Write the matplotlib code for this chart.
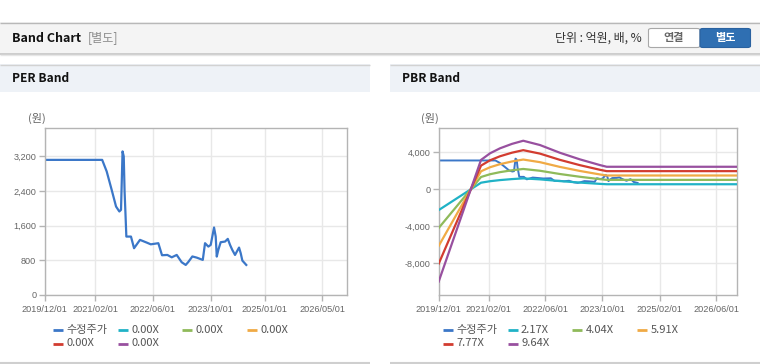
import numpy as np
import pandas as pd
import matplotlib
matplotlib.use("Agg")
import matplotlib.pyplot as plt
from matplotlib.patches import Rectangle, FancyBboxPatch
from matplotlib.lines import Line2D
from matplotlib.ticker import FuncFormatter

plt.rcParams['font.family'] = ['Liberation Sans', 'Noto Sans CJK KR', 'DejaVu Sans']
KR = ['Noto Sans CJK KR', 'DejaVu Sans']

# --- data ---
price_dates = ['2019-12-01', '2021-03-30', '2021-05-07', '2021-06-18', '2021-07-25', '2021-08-22',
               '2021-09-05', '2021-09-18', '2021-09-28', '2021-10-05', '2021-10-13', '2021-10-20',
               '2021-11-28', '2021-12-24', '2022-02-12', '2022-04-10', '2022-05-14', '2022-07-17',
               '2022-08-17', '2022-10-01', '2022-11-07', '2022-12-19', '2023-01-30', '2023-03-05',
               '2023-03-27', '2023-04-30', '2023-06-06', '2023-07-27', '2023-08-15', '2023-09-12',
               '2023-10-02', '2023-10-30', '2023-11-13', '2023-11-22', '2023-12-05', '2023-12-25',
               '2024-01-31', '2024-02-23', '2024-03-13', '2024-04-01', '2024-04-24', '2024-05-28',
               '2024-06-11', '2024-06-25', '2024-07-28']
price = [3120, 3120, 2854, 2430, 2043, 1928,
         1967, 3316, 3200, 2400, 1850, 1349,
         1349, 1080, 1273, 1210, 1170, 1196,
         918, 925, 870, 925, 756, 694,
         763, 890, 863, 810, 1196, 1118,
         1157, 1558, 1349, 887, 1041, 1219,
         1234, 1296, 1157, 1041, 925, 1095,
         965, 794, 694]

band_dates = ['2019-12-01', '2020-11-27', '2021-02-12', '2021-05-08', '2021-08-19', '2021-11-23',
              '2022-04-15', '2022-10-03', '2023-03-23', '2023-09-10', '2023-11-07', '2026-11-28']
band_217 = [-2246, 716, 877, 998, 1107, 1183, 1078, 890, 729, 590, 549, 549]
band_404 = [-4181, 1333, 1632, 1858, 2060, 2202, 2008, 1656, 1357, 1099, 1022, 1022]
band_591 = [-6117, 1950, 2388, 2719, 3014, 3221, 2937, 2423, 1986, 1608, 1495, 1495]
band_777 = [-8042, 2564, 3139, 3574, 3963, 4235, 3862, 3186, 2611, 2113, 1966, 1966]
band_964 = [-9977, 3181, 3895, 4434, 4916, 5254, 4791, 3952, 3239, 2622, 2439, 2439]

pbr_labels = ['수정주가', '2.17X', '4.04X', '5.91X', '7.77X', '9.64X']
per_labels = ['수정주가', '0.00X', '0.00X', '0.00X', '0.00X', '0.00X']
colors = ['#3b77c8', '#20b2c6', '#8fba5a', '#f0aa45', '#d23c30', '#98509f']

per_xticks = ['2019-12-01', '2021-02-01', '2022-06-01', '2023-10-01', '2025-01-01', '2026-05-01']
pbr_xticks = ['2019-12-01', '2021-02-01', '2022-06-01', '2023-10-01', '2025-02-01', '2026-06-01']
per_yticks = [0, 800, 1600, 2400, 3200]
pbr_yticks = [-8000, -4000, 0, 4000]

W, H = 760, 364
fig = plt.figure(figsize=(W / 100, H / 100), dpi=100)


def fx(x):
    return x / W


def fy(y):
    return 1 - y / H


def rect(x0, y0, x1, y1, fc):
    fig.patches.append(Rectangle((fx(x0), fy(y1)), (x1 - x0) / W, (y1 - y0) / H,
                                 transform=fig.transFigure, fc=fc, ec='none', zorder=0))


def hline(x0, x1, y, color, lw=1.0):
    fig.add_artist(Line2D([fx(x0), fx(x1)], [fy(y), fy(y)], transform=fig.transFigure,
                          color=color, lw=lw, solid_capstyle='butt'))


# top header
rect(0, 22, 760, 53, '#f4f4f4')
hline(0, 760, 22.5, '#b8b8b8')
hline(0, 760, 53.5, '#c4c4c4', 1.2)
hline(0, 760, 54.5, '#e6e6e6', 1.0)
fig.text(fx(12), fy(38), 'Band Chart', family=KR, weight='bold', size=9, va='center', color='#111')
fig.text(fx(88), fy(38), '[별도]', family=KR, size=8.7, va='center', color='#8c8c8c')
fig.text(fx(642), fy(38), '단위 : 억원, 배, %', family=KR, size=8.6, va='center', ha='right', color='#333')

fig.patches.append(FancyBboxPatch((fx(648.5), fy(47.5)), (700 - 648.5) / W, 19 / H,
                                  boxstyle='round,pad=0,rounding_size=0.004',
                                  transform=fig.transFigure, fc='white', ec='#a8a8a8', lw=0.8))
fig.patches.append(FancyBboxPatch((fx(700), fy(47.5)), (750.5 - 700) / W, 19 / H,
                                  boxstyle='round,pad=0,rounding_size=0.004',
                                  transform=fig.transFigure, fc='#2f6fb2', ec='#2a62a0', lw=0.8))
fig.text(fx(674), fy(38), '연결', family=KR, size=8, weight='bold', ha='center', va='center', color='#666')
fig.text(fx(725), fy(38), '별도', family=KR, size=8, weight='bold', ha='center', va='center', color='white')

# panel headers
for x0, x1, title in [(0, 370, 'PER Band'), (390, 760, 'PBR Band')]:
    rect(x0, 64, x1, 92, '#eef2f7')
    hline(x0, x1, 64.5, '#d2d2d2')
    hline(x0, x1, 362.5, '#cfcfcf', 1.5)
    fig.text(fx(x0 + 12), fy(79), title, family=KR, weight='bold', size=8.6, va='center', color='#111')


def style(ax, xticks, yticks, ylim, xend):
    ax.set_xlim(pd.Timestamp('2019-12-01'), pd.Timestamp(xend))
    ax.set_ylim(*ylim)
    ax.set_xticks(pd.to_datetime(xticks))
    ax.set_xticklabels([t.replace('-', '/') for t in xticks])
    ax.set_yticks(yticks)
    ax.yaxis.set_major_formatter(FuncFormatter(lambda v, p: f'{int(v):,}'))
    ax.grid(True, color='#e8e8e8', lw=1)
    ax.set_axisbelow(True)
    for s in ax.spines.values():
        s.set_color('#b4b4b4')
        s.set_linewidth(1)
    ax.tick_params(axis='both', colors='#b4b4b4', labelcolor='#666', labelsize=6.6, length=4, width=1)
    ax.tick_params(axis='x', pad=3)
    ax.tick_params(axis='y', pad=2)
    ax.set_facecolor('white')


def legend(x0, labels):
    for i, (lab, c) in enumerate(zip(labels, colors)):
        x = x0 + (i % 4) * 64.8
        y = 330 + (i // 4) * 13.5
        hline(x, x + 10, y, c, 2)
        fig.text(fx(x + 13.5), fy(y), lab, family=KR, size=8, va='center', color='#555')


pd_price = pd.to_datetime(price_dates)

ax1 = fig.add_axes([fx(44.7), fy(295), (347 - 44.7) / W, (295 - 128) / H])
ax1.plot(pd_price, price, color=colors[0], lw=1.6)
style(ax1, per_xticks, per_yticks, (0, 3856), '2026-11-25')
fig.text(fx(28), fy(118), '(원)', family=KR, size=8, va='center', color='#666')
legend(52.7, per_labels)

ax2 = fig.add_axes([fx(438.7), fy(295), (737.3 - 438.7) / W, (295 - 128.3) / H])
ax2.plot(pd_price, price, color=colors[0], lw=1.4, zorder=2)
pd_band = pd.to_datetime(band_dates)
for k, vals in enumerate([band_217, band_404, band_591, band_777, band_964]):
    ax2.plot(pd_band, vals, color=colors[k + 1], lw=1.6, zorder=3 + k)
style(ax2, pbr_xticks, pbr_yticks, (-11430, 6600), '2026-11-28')
fig.text(fx(421.5), fy(118), '(원)', family=KR, size=8, va='center', color='#666')
legend(442.7, pbr_labels)

fig.savefig('out.png', dpi=100)
